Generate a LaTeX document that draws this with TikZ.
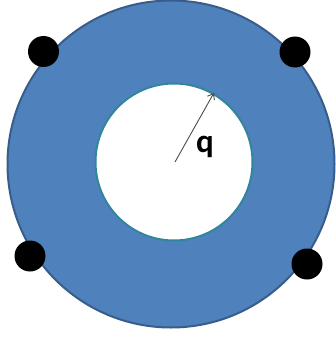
\documentclass[tikz,border=0pt]{standalone}
\usepackage{fontspec}
\setmainfont{Carlito}
\usetikzlibrary{arrows.meta}
\definecolor{ringblue}{RGB}{79,129,189}
\definecolor{ringedge}{RGB}{56,93,138}
\definecolor{holeedge}{RGB}{49,133,156}
\tikzset{
  dot/.style={circle,fill=black,minimum size=31pt,inner sep=0pt},
}
\begin{document}
\begin{tikzpicture}[x=1pt,y=-1pt]
\useasboundingbox (0,0) rectangle (335,337);
\node[circle,fill=ringblue,draw=ringedge,line width=2pt,minimum size=327pt,inner sep=0pt] (outer) at (171,164) {};
\node[circle,fill=white,draw=holeedge,line width=2pt,minimum size=157pt,inner sep=0pt] (inner) at (174,162) {};
\node[dot] (d1) at (43.5,51.5) {};
\node[dot] (d2) at (295,52) {};
\node[dot] (d3) at (30,256) {};
\node[dot] (d4) at (307,264) {};
\coordinate (c) at (175,162);
\draw[gray!60!black,line width=0.9pt,-{Straight Barb[length=5pt,width=8pt]}] (c) -- (inner.60);
\node[font=\fontsize{33}{35}\selectfont\bfseries] (q) at (205,147) {q};
\end{tikzpicture}
\end{document}
